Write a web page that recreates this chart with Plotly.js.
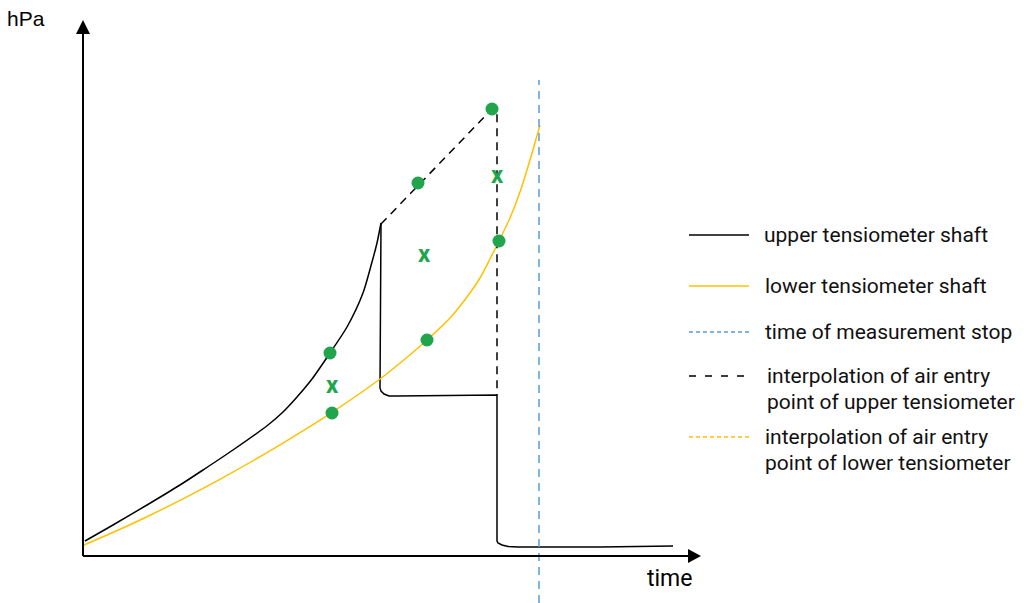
<!DOCTYPE html>
<html>
<head>
<meta charset="utf-8">
<script src="https://cdn.plot.ly/plotly-3.0.1.min.js"></script>
<style>html,body{margin:0;padding:0;background:#fff;}#chart{width:1028px;height:603px;}</style>
</head>
<body>
<div id="chart"></div>
<script>
// ---- data (time units, hPa units; schematic) ----
// upper tensiometer: rise up to air entry (smooth part)
const upperRiseTime = [2,30,64,97,120,150,185,200,214,229,247,264,280,289,294,298];
const upperRiseHPa  = [15,31,51,71,86,106,131,144,159,177,203,229,263,294,313,333];
// upper tensiometer: after air entry (drops and plateaus)
const upperDropTime = [298,297,298,301,306,314,414,414,415,419,425,435,517,590];
const upperDropHPa  = [333,168,165,162,160,160,161,15,13,11,9.5,9,9,10];

const lowerTime = [1,32,64,97,135,184,217,248,297,322,344,367,387,397,407,416,427,437,447,457];
const lowerHPa  = [11,24.5,39.3,55.6,75.6,103.4,123.4,143,177,197,216,238,263,278,297,315,338,364,396,431];

const upperInterpTime = [298,409,414,414];
const upperInterpHPa  = [332,447,444,161];

const stopTime = 456;
const stopHPaRange = [-47,476];

const dotTime = [247,249,335,344,409,416];
const dotHPa  = [203,143,373,216,447,315];

const crossTime = [249,341,414];
const crossHPa  = [169,300,379];

const legendLabels = [
  "upper tensiometer shaft",
  "lower tensiometer shaft",
  "time of measurement stop",
  "interpolation of air entry<br>point of upper tensiometer",
  "interpolation of air entry<br>point of lower tensiometer"
];

const GREEN = '#20a54c', YELLOW = '#FFC000', BLUE = '#5B9BD5';

const traces = [
  {x: upperRiseTime, y: upperRiseHPa, mode:'lines', line:{color:'#000', width:1.5, shape:'spline', smoothing:0.7}, hoverinfo:'skip'},
  {x: upperDropTime, y: upperDropHPa, mode:'lines', line:{color:'#000', width:1.5}, hoverinfo:'skip'},
  {x: lowerTime, y: lowerHPa, mode:'lines', line:{color:YELLOW, width:1.5, shape:'spline', smoothing:0.7}, hoverinfo:'skip'},
  {x: upperInterpTime, y: upperInterpHPa, mode:'lines', line:{color:'#000', width:1.5, dash:'8px,6px'}, hoverinfo:'skip'},
  {x: [stopTime, stopTime], y: stopHPaRange, mode:'lines', line:{color:BLUE, width:1.5, dash:'8px,6px'}, hoverinfo:'skip'},
  {x: dotTime, y: dotHPa, mode:'markers', marker:{color:GREEN, size:13}, hoverinfo:'skip'},
  {x: crossTime, y: crossHPa, mode:'text', text: crossTime.map(()=> 'x'), textposition:'middle center',
   textfont:{family:'Roboto', size:24, color:GREEN, weight:700}, hoverinfo:'skip'}
];

// helpers for decoration positioning (pixel -> axis units)
const X = px => px - 83, Y = py => 556 - py;

const legendRows = [
  {y: 235, color:'#000', dash:'solid', ty: [235], tx: 762},
  {y: 286, color:YELLOW, dash:'solid', ty: [286], tx: 763},
  {y: 332, color:BLUE, dash:'4px,3px', ty: [332], tx: 763},
  {y: 376, color:'#000', dash:'7px,9px', ty: [376,402], tx: 765},
  {y: 437, color:YELLOW, dash:'4px,3px', ty: [437,463], tx: 763}
];

const shapes = [
  // y axis
  {type:'line', x0:0, x1:0, y0:0, y1:Y(32), line:{color:'#000', width:2}},
  {type:'path', path:`M 0,${Y(20)} L ${X(76)},${Y(34)} L ${X(90)},${Y(34)} Z`, fillcolor:'#000', line:{color:'#000', width:0}},
  // x axis
  {type:'line', x0:0, x1:X(690), y0:0, y1:0, line:{color:'#000', width:2}},
  {type:'path', path:`M ${X(701)},0 L ${X(688)},${Y(549)} L ${X(688)},${Y(563)} Z`, fillcolor:'#000', line:{color:'#000', width:0}}
];
legendRows.forEach(r => shapes.push({type:'line', x0:X(689), x1:X(749), y0:Y(r.y), y1:Y(r.y), line:{color:r.color, width:1.3, dash:r.dash}}));

const annotations = [
  {x:X(26), y:Y(18), text:'hPa', showarrow:false, font:{family:'Liberation Sans', size:21, color:'#000'}, xanchor:'center', yanchor:'middle'},
  {x:X(669), y:Y(578), text:'time', showarrow:false, font:{family:'Roboto', size:23, color:'#000'}, xanchor:'center', yanchor:'middle'}
];
legendRows.forEach((r,i) => {
  const lines = legendLabels[i].split('<br>');
  lines.forEach((t,j) => annotations.push({x:X(r.tx), y:Y(r.ty[j]), text:t, showarrow:false, align:'left',
    xanchor:'left', yanchor:'middle', font:{family:'Roboto', size:21, color:'#111'}}));
});

const layout = {
  width:1028, height:603,
  margin:{l:0, r:0, t:0, b:0, pad:0},
  paper_bgcolor:'#fff', plot_bgcolor:'#fff',
  showlegend:false,
  xaxis:{range:[-83, 945], visible:false, fixedrange:true},
  yaxis:{range:[-47, 556], visible:false, fixedrange:true},
  shapes, annotations
};

Plotly.newPlot('chart', traces, layout, {displayModeBar:false, staticPlot:true});
</script>
</body>
</html>
